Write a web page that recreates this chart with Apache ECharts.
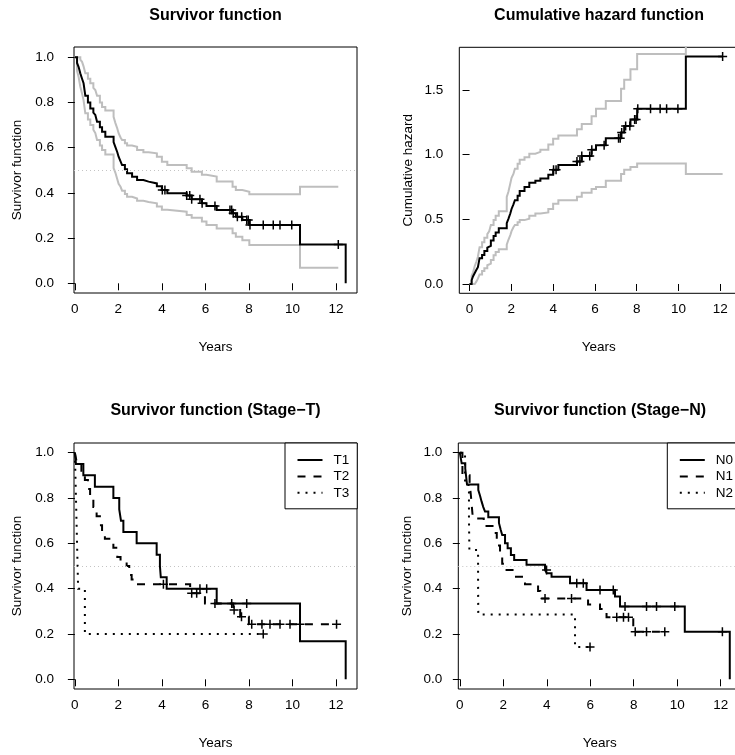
<!DOCTYPE html>
<html>
<head>
<meta charset="utf-8">
<script src="https://cdn.jsdelivr.net/npm/echarts@6/dist/echarts.min.js"></script>
<style>
html,body{margin:0;padding:0;background:#ffffff;}
#chart{width:735px;height:755px;}
</style>
</head>
<body>
<div id="chart"></div>
<script>
// ---------------- data ----------------
const xTickValues = [0, 2, 4, 6, 8, 10, 12];
const survTickValues = [0, 0.2, 0.4, 0.6, 0.8, 1.0];
const hazTickValues = [0, 0.5, 1.0, 1.5];

const panelTitles = ['Survivor function', 'Cumulative hazard function',
                     'Survivor function (Stage\u2212T)', 'Survivor function (Stage\u2212N)'];

// overall Kaplan-Meier (event times, estimate, 95% CI)
const kmTimes = [0,0.1,0.17,0.25,0.33,0.40,0.48,0.60,0.71,0.85,0.94,1.02,1.15,1.25,1.40,1.78,1.86,1.95,2.01,2.10,
                 2.17,2.30,2.40,2.63,2.86,3.15,3.39,3.77,4.00,4.25,5.14,5.37,5.84,6.05,6.52,7.25,7.40,7.70,8.02,10.35,12.45];
const kmSurv  = [1,0.975,0.958,0.929,0.905,0.885,0.83,0.80,0.774,0.755,0.745,0.715,0.69,0.671,0.649,0.625,0.604,0.58,0.56,0.54,
                 0.523,0.505,0.487,0.472,0.457,0.45,0.442,0.43,0.413,0.398,0.388,0.372,0.354,0.342,0.324,0.31,0.295,0.28,0.258,0.172,0];
const kmLower = [1.0,0.94,0.914,0.87,0.84,0.81,0.752,0.725,0.70,0.68,0.665,0.634,0.61,0.59,0.57,0.51,0.49,0.46,0.44,0.427,
                 0.41,0.395,0.383,0.375,0.365,0.36,0.354,0.34,0.325,0.317,0.302,0.29,0.273,0.258,0.243,0.221,0.206,0.19,0.169,0.069];
const kmUpper = [1.0,1.0,1.0,0.99,0.98,0.96,0.929,0.905,0.885,0.865,0.855,0.83,0.80,0.78,0.765,0.737,0.71,0.685,0.664,0.645,
                 0.634,0.62,0.61,0.604,0.59,0.58,0.575,0.56,0.538,0.523,0.509,0.494,0.48,0.472,0.45,0.427,0.413,0.405,0.394,0.427];
const kmCensorTimes = [4.02,4.14,5.14,5.28,5.37,5.75,5.85,6.44,7.13,7.21,7.28,7.47,7.67,7.9,7.97,8.05,8.66,9.12,9.43,9.97,12.11];

// cumulative hazard (same event times, estimate, 95% CI)
const hazEst   = [0,0.03,0.06,0.085,0.11,0.13,0.20,0.225,0.256,0.281,0.294,0.336,0.371,0.399,0.432,0.470,0.504,0.545,0.580,0.616,
                  0.648,0.683,0.719,0.751,0.783,0.799,0.816,0.844,0.884,0.921,0.947,0.989,1.039,1.073,1.127,1.171,1.221,1.273,1.355,1.760];
const hazLower = [0,0,0,0.010,0.020,0.041,0.074,0.100,0.122,0.145,0.157,0.186,0.223,0.248,0.268,0.305,0.342,0.378,0.409,0.439,
                  0.456,0.478,0.494,0.504,0.528,0.545,0.553,0.580,0.620,0.648,0.675,0.705,0.734,0.751,0.799,0.851,0.884,0.904,0.931,0.851];
const hazUpper = [0,0.062,0.090,0.139,0.174,0.211,0.285,0.322,0.357,0.386,0.408,0.456,0.494,0.528,0.562,0.673,0.713,0.777,0.821,0.851,
                  0.892,0.929,0.960,0.981,1.008,1.022,1.039,1.079,1.124,1.149,1.197,1.238,1.298,1.355,1.415,1.510,1.580,1.661,1.778,2.674];

// Stage-T groups
const stageTNames = ['T1', 'T2', 'T3'];
const t1Times = [0,0.05,0.39,0.92,1.77,2.04,2.12,2.23,2.84,3.76,3.91,3.95,4.22,6.52,10.35,12.45];
const t1Surv  = [1,0.95,0.90,0.85,0.80,0.75,0.70,0.65,0.60,0.55,0.50,0.45,0.40,0.335,0.168,0];
const t1Censor = [5.75,6.06,7.9];
const t2Times = [0,0.08,0.3,0.46,0.6,0.7,0.85,1.0,1.15,1.25,1.38,1.77,1.95,2.1,2.38,2.5,2.61,2.85,5.3,5.98,7.28,7.6,8.0];
const t2Surv  = [1,0.96,0.92,0.88,0.84,0.80,0.76,0.72,0.68,0.64,0.62,0.58,0.54,0.52,0.50,0.46,0.44,0.42,0.38,0.335,0.306,0.276,0.243];
const t2Censor = [4.07,5.37,5.6,6.44,7.21,7.32,7.66,8.13,8.6,8.97,9.43,9.89,10.35,12.03];
const t3Times = [0,0.05,0.1,0.15,0.46];
const t3Surv  = [1,0.8,0.6,0.4,0.2];
const t3Censor = [8.66];

// Stage-N groups
const stageNNames = ['N0', 'N1', 'N2'];
const n0Times = [0,0.086,0.25,0.33,0.85,0.93,1.0,1.08,1.16,1.31,1.8,1.88,1.95,2.08,2.2,2.35,2.5,3.07,3.92,4.0,4.22,5.07,5.83,7.14,7.37,10.35,12.42];
const n0Surv  = [1,0.953,0.93,0.86,0.835,0.81,0.785,0.76,0.74,0.715,0.69,0.66,0.637,0.60,0.578,0.549,0.527,0.505,0.482,0.468,0.453,0.424,0.394,0.365,0.321,0.21,0];
const n0Censor = [3.99,5.38,5.68,6.45,7.06,7.6,8.59,9.05,9.89,12.08];
const n1Times = [0,0.12,0.45,0.52,0.6,1.1,1.6,1.7,1.85,1.95,2.05,2.5,3.0,3.6,3.7,5.9,6.45,6.75,7.98];
const n1Surv  = [1,0.90,0.87,0.80,0.71,0.676,0.646,0.59,0.55,0.51,0.482,0.453,0.42,0.39,0.357,0.33,0.31,0.274,0.21];
const n1Censor = [3.92,5.14,7.22,7.53,7.76,8.07,8.59,9.43];
const n2Times = [0,0.24,0.42,0.44,0.84,0.85,5.3];
const n2Surv  = [1,0.857,0.714,0.571,0.429,0.286,0.143];
const n2Censor = [5.99];

// ---------------- helpers ----------------
const FONT = '"Liberation Sans", Arial, Helvetica, sans-serif';
const BLACK = '#000000';
const GRAY = '#bebebe';
const PLUS = 'path://M4.17,0L5.83,0L5.83,4.17L10,4.17L10,5.83L5.83,5.83L5.83,10L4.17,10L4.17,5.83L0,5.83L0,4.17L4.17,4.17Z';

function stepAt(times, vals, t) {
  let v = vals[0];
  for (let i = 0; i < times.length; i++) if (times[i] <= t) v = vals[i];
  return v;
}
function curve(times, vals, censors) {
  const d = vals.map((v, i) => [times[i], v]);
  const lastC = censors.length ? Math.max.apply(null, censors) : -Infinity;
  if (lastC > times[vals.length - 1]) d.push([lastC, vals[vals.length - 1]]);
  return d;
}
function censorPts(times, vals, censors) {
  return censors.map(t => [t, stepAt(times, vals, t)]);
}
function lineSeries(name, idx, data, color, dash) {
  return {
    name: name, type: 'line', xAxisIndex: idx, yAxisIndex: idx, data: data,
    step: 'end', symbol: 'none', showSymbol: false, clip: true, silent: true,
    animation: false, z: 2, emphasis: { disabled: true },
    lineStyle: { color: color, width: 2, type: dash || 'solid', cap: 'butt', join: 'miter' },
    itemStyle: { color: color }
  };
}
function censorSeries(name, idx, data) {
  return {
    name: name, type: 'scatter', xAxisIndex: idx, yAxisIndex: idx, data: data,
    symbol: PLUS, symbolSize: 9, silent: true, animation: false, z: 5,
    emphasis: { disabled: true }, itemStyle: { color: BLACK, opacity: 1 }
  };
}
const refLine = {
  silent: true, symbol: ['none', 'none'], label: { show: false }, animation: false,
  emphasis: { disabled: true },
  lineStyle: { color: '#c4c4c4', width: 1, type: [1, 3] },
  data: [{ yAxis: 0.5 }]
};
function gridOf(left, top, width, height) {
  return { left: left, top: top, width: width, height: height, show: true, borderColor: BLACK,
           borderWidth: 1, backgroundColor: 'transparent', containLabel: false, outerBoundsMode: 'none' };
}
function xAx(i, min, max) {
  return {
    gridIndex: i, type: 'value', min: min, max: max, name: 'Years', nameLocation: 'middle', nameGap: 47,
    nameTextStyle: { fontSize: 13.5, color: BLACK, fontFamily: FONT },
    axisLine: { show: false }, splitLine: { show: false },
    axisTick: { show: true, inside: false, length: 7, lineStyle: { color: BLACK, width: 1 }, customValues: xTickValues },
    axisLabel: { show: true, margin: 9, color: BLACK, fontSize: 13.5, fontFamily: FONT, customValues: xTickValues,
                 formatter: v => String(Math.round(v)) }
  };
}
function yAx(i, min, max, ticks, labelMargin, name, nameGap) {
  return {
    gridIndex: i, type: 'value', min: min, max: max, name: name, nameLocation: 'middle', nameGap: nameGap,
    nameTextStyle: { fontSize: 13.5, color: BLACK, fontFamily: FONT },
    axisLine: { show: false }, splitLine: { show: false },
    axisTick: { show: true, inside: false, length: 7, lineStyle: { color: BLACK, width: 1 }, customValues: ticks },
    axisLabel: { show: true, margin: labelMargin, color: BLACK, fontSize: 13.5, fontFamily: FONT, customValues: ticks,
                 formatter: v => v.toFixed(1) }
  };
}
function titleOf(text, cx, top) {
  return { text: text, left: cx, top: top, textAlign: 'center', padding: 0,
           textStyle: { fontSize: 16, fontWeight: 'bold', color: BLACK, fontFamily: FONT } };
}
function legendOf(names, left, top) {
  return {
    data: names, left: left, top: top, orient: 'vertical', selectedMode: false,
    itemWidth: 25, itemHeight: 14, itemGap: 2.4, padding: [10, 8, 9, 11.5],
    borderColor: BLACK, borderWidth: 1, borderRadius: 0, backgroundColor: '#ffffff',
    itemStyle: { color: 'rgba(0,0,0,0)', borderColor: 'rgba(0,0,0,0)', borderWidth: 0, opacity: 0 },
    textStyle: { fontSize: 13.5, color: BLACK, fontFamily: FONT, padding: [0, 0, 0, 6] }
  };
}

// ---------------- series ----------------
const ciTimes = kmTimes.slice(0, kmLower.length);
const hazTimes = kmTimes.slice(0, hazEst.length);

const series = [];
// panel 1
const kmLine = lineSeries('Survival', 0, curve(kmTimes, kmSurv, kmCensorTimes), BLACK);
kmLine.markLine = refLine;
series.push(lineSeries('Lower CI', 0, curve(ciTimes, kmLower, kmCensorTimes), GRAY));
series.push(lineSeries('Upper CI', 0, curve(ciTimes, kmUpper, kmCensorTimes), GRAY));
series.push(kmLine);
series.push(censorSeries('Censored', 0, censorPts(kmTimes, kmSurv, kmCensorTimes)));
// panel 2
series.push(lineSeries('Hazard lower CI', 1, curve(hazTimes, hazLower, kmCensorTimes), GRAY));
series.push(lineSeries('Hazard upper CI', 1, curve(hazTimes, hazUpper, kmCensorTimes), GRAY));
series.push(lineSeries('Cumulative hazard', 1, curve(hazTimes, hazEst, kmCensorTimes), BLACK));
series.push(censorSeries('Hazard censored', 1, censorPts(hazTimes, hazEst, kmCensorTimes)));
// panel 3
const tGroups = [[t1Times, t1Surv, t1Censor, 'solid'], [t2Times, t2Surv, t2Censor, [8, 8]], [t3Times, t3Surv, t3Censor, [2, 6]]];
tGroups.forEach((g, k) => {
  const s = lineSeries(stageTNames[k], 2, curve(g[0], g[1], g[2]), BLACK, g[3]);
  if (k === 0) s.markLine = refLine;
  series.push(s);
  series.push(censorSeries(stageTNames[k] + ' censored', 2, censorPts(g[0], g[1], g[2])));
});
// panel 4
const nGroups = [[n0Times, n0Surv, n0Censor, 'solid'], [n1Times, n1Surv, n1Censor, [8, 8]], [n2Times, n2Surv, n2Censor, [2, 6]]];
nGroups.forEach((g, k) => {
  const s = lineSeries(stageNNames[k], 3, curve(g[0], g[1], g[2]), BLACK, g[3]);
  if (k === 0) s.markLine = refLine;
  series.push(s);
  series.push(censorSeries(stageNNames[k] + ' censored', 3, censorPts(g[0], g[1], g[2])));
});

const option = {
  animation: false,
  backgroundColor: '#ffffff',
  textStyle: { fontFamily: FONT },
  title: [
    titleOf(panelTitles[0], 215.5, 8),
    titleOf(panelTitles[1], 599, 8),
    titleOf(panelTitles[2], 215.5, 403),
    titleOf(panelTitles[3], 600, 403)
  ],
  legend: [legendOf(stageTNames, 285, 443), legendOf(stageNNames, 667.3, 443)],
  grid: [
    gridOf(74, 47, 283, 246),
    gridOf(459.3, 47.3, 279, 246),
    gridOf(74, 443, 283, 246),
    gridOf(458.3, 443, 283, 246)
  ],
  xAxis: [xAx(0, -0.04, 12.97), xAx(1, -0.49, 12.86), xAx(2, -0.04, 12.97), xAx(3, -0.07, 12.95)],
  yAxis: [
    yAx(0, -0.0429, 1.0456, survTickValues, 20, 'Survivor function', 50),
    yAx(1, -0.072, 1.8306, hazTickValues, 16, 'Cumulative hazard', 44),
    yAx(2, -0.0428, 1.0428, survTickValues, 20, 'Survivor function', 50),
    yAx(3, -0.0428, 1.0428, survTickValues, 16, 'Survivor function', 44)
  ],
  series: series
};

const chart = echarts.init(document.getElementById('chart'), null, { renderer: 'canvas', width: 735, height: 755 });
chart.setOption(option);
</script>
</body>
</html>
